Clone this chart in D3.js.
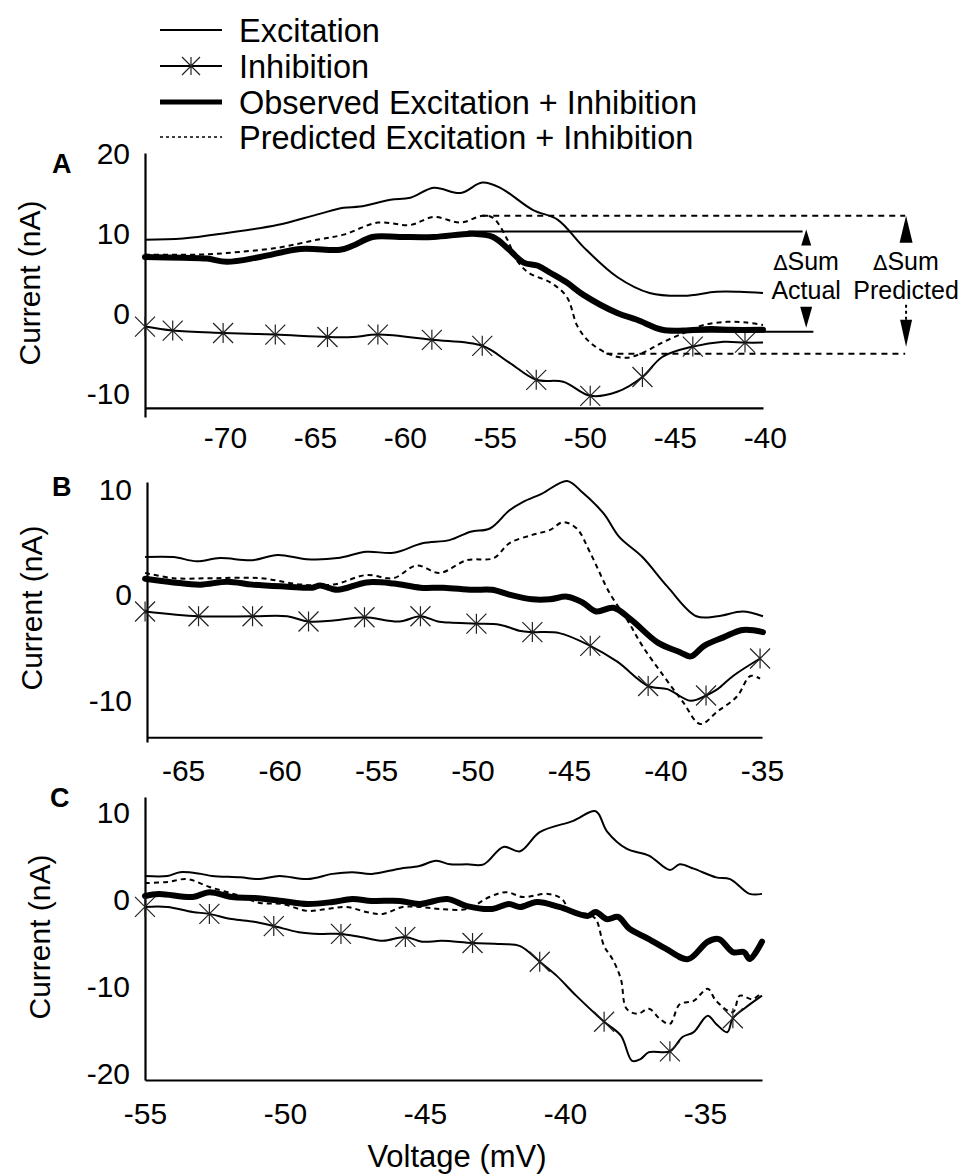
<!DOCTYPE html>
<html><head><meta charset="utf-8">
<script src="https://cdn.jsdelivr.net/npm/d3@7"></script>
<style>
body{margin:0;background:#fff}
svg{display:block}
text{font-family:"Liberation Sans",Arial,Helvetica,sans-serif;fill:#000}
</style>
</head><body>
<svg id="chart" width="968" height="1176"></svg>
<script>
// ---------------- DATA ----------------
const legendLabels = ["Excitation","Inhibition","Observed Excitation + Inhibition","Predicted Excitation + Inhibition"];
const yTicksA = [20,10,0,-10], xTicksA = [-70,-65,-60,-55,-50,-45,-40];
const yTicksB = [10,0,-10],     xTicksB = [-65,-60,-55,-50,-45,-40,-35];
const yTicksC = [10,0,-10,-20], xTicksC = [-55,-50,-45,-40,-35];

// Panel A
const excA_v = [-74.44,-72.33,-69.9,-67.1,-64.9,-63.4,-62.5,-60.8,-59.7,-58.4,-56.9,-55.7,-54.7,-52.9,-51.5,-50.1,-48.2,-46.4,-44.5,-42.7,-41.4,-40.1];
const excA_i = [9.25,9.4,10.1,11.1,12.4,13.25,13.4,14.25,14.5,15.75,15.1,16.4,15.75,13,11.75,8.4,4.6,2.6,2.25,2.75,2.75,2.6];
const inhA_v = [-74.44,-72.9,-70.1,-67.2,-64.3,-62.9,-61.5,-58.5,-55.7,-54.2,-52.7,-51.2,-49.7,-48.2,-46.8,-45.7,-44,-42.3,-41.1,-40.1];
const inhA_i = [-1.6,-2.1,-2.4,-2.6,-2.9,-2.9,-2.6,-3.25,-4,-6.1,-8.25,-8.5,-10.25,-9.75,-7.9,-5.4,-4.1,-3.5,-3.6,-3.6];
const inhA_markers = [0,1,2,3,4,6,7,8,10,12,14,16,18];
const obsA_v = [-74.44,-72.33,-71,-69.9,-68.05,-65.8,-63.6,-62.9,-61.8,-60.3,-58.4,-56.2,-55.1,-54.2,-53.4,-52.6,-51.9,-51,-50.1,-48.2,-47.1,-45.7,-44.5,-43,-41.9,-40.1];
const obsA_i = [7.1,7,6.9,6.5,7.1,8.1,8,8.5,9.6,9.6,9.6,10,9.6,8,6.4,6,5.1,3.9,2.4,0.1,-0.75,-2,-2.1,-1.9,-2,-2];
const predA_v = [-74.44,-71.4,-69.9,-67.1,-64.9,-63.4,-61.5,-59.7,-58.4,-56.9,-55.7,-55.1,-54.3,-53.8,-53.1,-51.9,-51.0,-50.4,-49.7,-48.6,-47.7,-46.8,-45.7,-44.5,-43.4,-42.1,-41.0,-40.1];
const predA_i = [7.4,7.4,7.6,8.25,9.25,9.9,11.4,11.1,12.1,11.4,12.25,12,9.25,6.75,5.1,3.9,2.1,-1.6,-3.6,-5.1,-5.5,-4.9,-3.6,-2.4,-1.4,-1,-1.1,-1.4];
// ΔSum annotation levels (nA) and voltages
const sumActual = [10.3,-2.25], sumPredicted = [12.25,-5.0];
const sumActualStart = [-56.5,-45.5], sumActualEnd = [-37.9,-37.3];
const sumPredStart = [-55.7,-48.8], sumPredEnd = [-32.2,-32.2];
const sumArrowV = [-37.7,-32.15];
const sumLabels = [["Sum","Actual"],["Sum","Predicted"]];

// Panel B
const excB_v = [-66.97,-65.5,-64.3,-63.1,-61.4,-60.1,-58.6,-57.0,-55.5,-54.1,-52.6,-51.2,-50.1,-49.1,-48.1,-47.4,-46.4,-45.1,-44.3,-43.2,-42.4,-41.2,-39.9,-38.4,-37.3,-36.0,-34.95];
const excB_i = [3.6,3.6,3.2,3.5,3.3,3.8,3.4,3.5,4.1,4,4.9,5.2,6,6.3,8,8.8,9.6,10.8,9.7,7.7,5.5,3.6,0.8,-2,-2,-1.55,-2];
const inhB_v = [-66.97,-64.2,-61.4,-59.6,-58.5,-57.2,-55.6,-53.8,-52.7,-51.8,-51.2,-49.8,-48.6,-47.5,-46.9,-45.5,-43.9,-42.5,-40.9,-39.9,-38.7,-37.9,-37.3,-36.5,-35.1];
const inhB_i = [-1.55,-2.0,-2.0,-2.0,-2.5,-2.4,-2.1,-2.5,-2.0,-2.5,-2.6,-2.7,-2.8,-3.4,-3.5,-3.6,-4.8,-6.3,-8.6,-8.9,-10,-9.5,-8.9,-7.65,-6.0];
const inhB_markers = [0,1,2,4,6,8,11,14,16,18,21,24];
const obsB_v = [-66.97,-65.5,-64.1,-62.7,-61.4,-59.6,-58.3,-57.9,-57.0,-55.5,-54.1,-52.7,-51.5,-50.0,-49.0,-48.1,-46.9,-46.0,-45.1,-44.3,-43.6,-42.7,-41.8,-40.4,-39.25,-38.7,-38.0,-37.0,-36.0,-34.95];
const obsB_i = [1.55,1.2,0.99,1.27,0.99,0.8,0.7,0.9,0.5,1.2,1.1,0.7,0.7,0.5,0.5,0.05,-0.4,-0.4,-0.15,-0.7,-1.55,-1.2,-2.3,-4.5,-5.4,-5.8,-4.8,-4.0,-3.3,-3.5];
const predB_v = [-66.97,-65.5,-63.45,-61.0,-58.9,-57.2,-55.5,-54.1,-52.9,-51.7,-50.3,-48.9,-48.1,-46.9,-46.0,-45.3,-44.6,-43.9,-42.9,-42.0,-41.2,-40.1,-39.1,-38.2,-37.3,-36.3,-35.6,-35.1];
const predB_i = [2.1,1.6,1.6,1.6,1.0,1.0,1.9,1.6,2.8,2.1,3.3,3.5,4.9,5.7,6.15,6.9,6.3,4,0.2,-2.3,-4.8,-7.65,-10.1,-12.2,-11.0,-9.6,-7.65,-7.9];

// Panel C
const excC_v = [-55.0,-54.2,-53.75,-53.0,-52.6,-51.6,-50.9,-50.2,-49.2,-48.3,-47.6,-46.9,-45.9,-45.2,-44.6,-44.1,-43.5,-42.9,-42.2,-41.6,-40.9,-39.7,-38.9,-38.5,-37.8,-37.0,-36.25,-35.9,-35.4,-34.6,-34.1,-33.4,-32.96];
const excC_i = [2.76,2.76,3.2,3.0,2.76,2.6,2.4,2.76,2.4,3.0,3.2,3.0,3.6,3.9,4.5,4.1,4.1,4.1,6.1,5.6,7.8,9.1,10.2,7.9,5.9,5.1,3.45,4.1,3.6,2.6,2.4,0.7,0.7];
const inhC_v = [-55.0,-54.2,-53.3,-52.7,-51.9,-51.1,-50.4,-49.5,-48.75,-48.0,-47.3,-46.5,-45.7,-45.1,-44.4,-43.3,-42.3,-41.6,-40.9,-40.3,-39.6,-38.6,-38.0,-37.6,-37.3,-37.0,-36.25,-35.8,-35.4,-34.9,-34.6,-34.2,-34.0,-33.6,-32.96];
const inhC_i = [-0.8,-0.8,-1.38,-1.6,-2.2,-2.5,-3.0,-3.7,-3.9,-3.9,-4.25,-4.7,-4.25,-4.8,-4.7,-4.95,-5.06,-5.3,-7.1,-8.7,-11.0,-14.0,-15.6,-18.5,-18.3,-17.5,-17.4,-15.75,-15.2,-13.3,-14.25,-15.2,-13.6,-12.5,-11.0];
const inhC_markers = [0,3,6,9,12,15,18,21,26,32];
const obsC_v = [-55.0,-54.5,-53.3,-52.7,-51.9,-51.1,-50.1,-49.2,-48.3,-47.6,-46.9,-45.9,-45.2,-44.2,-43.5,-42.6,-42.0,-41.6,-41.0,-40.2,-39.2,-38.9,-38.5,-38.1,-37.7,-37.0,-36.4,-35.6,-34.9,-34.5,-34.0,-33.6,-33.4,-32.96];
const obsC_i = [0.46,0.7,0.34,0.9,0.34,0.23,-0.11,-0.46,-0.23,0.11,-0.11,-0.11,-0.46,0.11,-0.7,-1.03,-0.46,-0.8,-0.23,-0.8,-1.84,-1.38,-2.2,-1.95,-3.3,-4.5,-5.6,-6.8,-4.8,-4.5,-6.0,-6.0,-6.8,-4.8];
const predC_v = [-55.0,-54.2,-53.5,-52.7,-51.6,-50.9,-50.1,-49.2,-48.5,-47.8,-47.1,-46.5,-45.8,-45.2,-44.5,-43.5,-42.7,-42.1,-41.5,-40.6,-40.1,-39.8,-39.2,-38.9,-38.6,-38.3,-38.0,-37.8,-37.4,-37.0,-36.6,-36.25,-35.9,-35.4,-34.9,-34.6,-34.0,-33.75,-33.3,-32.96];
const predC_i = [1.95,2.07,2.4,1.5,0.46,-0.34,-0.46,-1.26,-1.03,-0.8,-1.38,-1.6,-0.8,-0.8,-1.03,-1.03,0.34,0.9,0.34,0.7,0.1,-1.4,-1.6,-2.2,-5.3,-6.8,-9.1,-12.5,-13.1,-12.5,-13.7,-14.25,-12,-11.6,-10.2,-11.6,-12.9,-11.0,-11.4,-10.6];

// ---------------- LAYOUT ----------------
const svg = d3.select("#chart");
const zip = (v, c) => v.map((d, i) => [d, c[i]]);

const panels = [
  {letter:"A", lx:52, ly:173, titleX:29, titleY:283,
   xd:[-74.44,-40.1], xr:[145,763], yd:[-12.9,20.1], yr:[417,153], xAxisAt:-11.75, xPad:19,
   xt:xTicksA, yt:yTicksA,
   exc:zip(excA_v,excA_i), inh:zip(inhA_v,inhA_i), mk:inhA_markers, obs:zip(obsA_v,obsA_i), pred:zip(predA_v,predA_i)},
  {letter:"B", lx:52, ly:496, titleX:31, titleY:608,
   xd:[-66.87,-35], xr:[147,762], yd:[-13.9,10.7], yr:[742,482], xAxisAt:-13.45, xPad:22,
   xt:xTicksB, yt:yTicksB,
   exc:zip(excB_v,excB_i), inh:zip(inhB_v,inhB_i), mk:inhB_markers, obs:zip(obsB_v,obsB_i), pred:zip(predB_v,predB_i)},
  {letter:"C", lx:50, ly:807, titleX:39, titleY:937,
   xd:[-55,-32.96], xr:[145,762], yd:[-20.7,11.84], yr:[1080,797], xAxisAt:-20.7, xPad:23,
   xt:xTicksC, yt:yTicksC,
   exc:zip(excC_v,excC_i), inh:zip(inhC_v,inhC_i), mk:inhC_markers, obs:zip(obsC_v,obsC_i), pred:zip(predC_v,predC_i)}
];

const starPath = r => `M${-r},${-r}L${r},${r}M${-r},${r}L${r},${-r}M0,${-r}L0,${r}`;
const fmt = d => String(d);
const scales = {};

panels.forEach(p => {
  const x = d3.scaleLinear().domain(p.xd).range(p.xr);
  const y = d3.scaleLinear().domain(p.yd).range(p.yr);
  scales[p.letter] = {x, y};
  const g = svg.append("g");

  const ya = g.append("g").attr("transform", `translate(${p.xr[0]},0)`)
    .call(d3.axisLeft(y).tickValues(p.yt).tickFormat(fmt).tickSize(0).tickSizeOuter(0).tickPadding(15));
  const xa = g.append("g").attr("transform", `translate(0,${y(p.xAxisAt)})`)
    .call(d3.axisBottom(x).tickValues(p.xt).tickFormat(fmt).tickSize(0).tickSizeOuter(0).tickPadding(p.xPad));
  [ya, xa].forEach(a => {
    a.select(".domain").attr("stroke", "#000").attr("stroke-width", 2.2);
    a.selectAll("text").attr("font-size", 30).attr("fill", "#000")
      .attr("font-family", '"Liberation Sans",Arial,sans-serif');
  });

  const line = d3.line().x(d => x(d[0])).y(d => y(d[1])).curve(d3.curveCatmullRom.alpha(0.5));

  g.append("path").attr("d", line(p.exc)).attr("fill","none").attr("stroke","#000").attr("stroke-width",2);
  g.append("path").attr("d", line(p.inh)).attr("fill","none").attr("stroke","#000").attr("stroke-width",2);
  g.append("path").attr("d", line(p.pred)).attr("fill","none").attr("stroke","#000").attr("stroke-width",2)
    .attr("stroke-dasharray","5,4");
  g.append("path").attr("d", line(p.obs)).attr("fill","none").attr("stroke","#000").attr("stroke-width",6)
    .attr("stroke-linecap","round").attr("stroke-linejoin","round");
  g.selectAll("path.star").data(p.mk.map(i => p.inh[i])).join("path").attr("class","star")
    .attr("transform", d => `translate(${x(d[0])},${y(d[1])})`)
    .attr("d", starPath(10)).attr("stroke","#222").attr("stroke-width",1.2).attr("fill","none");

  g.append("text").attr("x", p.lx).attr("y", p.ly).attr("font-size", 27).attr("font-weight","bold").text(p.letter);
  g.append("text").attr("transform", `translate(${p.titleX},${p.titleY}) rotate(-90)`)
    .attr("text-anchor","middle").attr("dy","0.35em").attr("font-size",30).text("Current (nA)");
});

svg.append("text").attr("x", 457).attr("y", 1167).attr("text-anchor","middle").attr("font-size",31).text("Voltage (mV)");

// ΔSum annotation in panel A
{
  const {x, y} = scales.A;
  const a = svg.append("g");
  [0,1].forEach(k => {
    a.append("line").attr("x1", x(sumActualStart[k])).attr("x2", x(sumActualEnd[k]))
      .attr("y1", y(sumActual[k])).attr("y2", y(sumActual[k])).attr("stroke","#000").attr("stroke-width",2);
    a.append("line").attr("x1", x(sumPredStart[k])).attr("x2", x(sumPredEnd[k]))
      .attr("y1", y(sumPredicted[k])).attr("y2", y(sumPredicted[k])).attr("stroke","#000").attr("stroke-width",2)
      .attr("stroke-dasharray","6,5");
  });
  const arrowUp = (cx, tip, w, h) => `M${cx},${tip}L${cx+w/2},${tip+h}L${cx-w/2},${tip+h}Z`;
  const arrowDown = (cx, tip, w, h) => `M${cx},${tip}L${cx+w/2},${tip-h}L${cx-w/2},${tip-h}Z`;
  const ax = x(sumArrowV[0]), px = x(sumArrowV[1]);
  a.append("path").attr("d", arrowUp(ax, y(sumActual[0]) - 2, 10, 16));
  a.append("path").attr("d", arrowDown(ax, y(sumActual[1]) - 4, 12, 21));
  a.append("path").attr("d", arrowUp(px, y(sumPredicted[0]), 13, 27));
  a.append("path").attr("d", arrowDown(px, y(sumPredicted[1]) - 7, 12, 27));
  a.append("line").attr("x1", px).attr("x2", px).attr("y1", y(sumPredicted[1]) - 49).attr("y2", y(sumPredicted[1]) - 34)
    .attr("stroke","#000").attr("stroke-width",2).attr("stroke-dasharray","3,3");
  [ax, px].forEach((cx, k) => {
    const t1 = a.append("text").attr("x", cx).attr("y", 270).attr("text-anchor","middle").attr("font-size",25);
    t1.append("tspan").attr("font-size",21).attr("font-family","DejaVu Sans").text("\u2206");
    t1.append("tspan").text(sumLabels[k][0]);
    a.append("text").attr("x", cx).attr("y", 299).attr("text-anchor","middle").attr("font-size",25).text(sumLabels[k][1]);
  });
}

// legend
{
  const lg = svg.append("g");
  const ys = [30, 66, 102, 137];
  const styles = [
    {w:2, dash:null, star:false},
    {w:2, dash:null, star:true},
    {w:5, dash:null, star:false},
    {w:1.6, dash:"3,3", star:false}
  ];
  legendLabels.forEach((lab, i) => {
    const s = styles[i];
    const l = lg.append("line").attr("x1",160).attr("x2",222).attr("y1",ys[i]).attr("y2",ys[i])
      .attr("stroke","#000").attr("stroke-width",s.w);
    if (s.dash) l.attr("stroke-dasharray", s.dash);
    if (s.star) lg.append("path").attr("transform",`translate(191,${ys[i]})`).attr("d",starPath(9))
      .attr("stroke","#222").attr("stroke-width",1.2).attr("fill","none");
    lg.append("text").attr("x",239).attr("y",ys[i]).attr("dy","0.36em").attr("font-size",32.5).text(lab);
  });
}
</script>
</body></html>
